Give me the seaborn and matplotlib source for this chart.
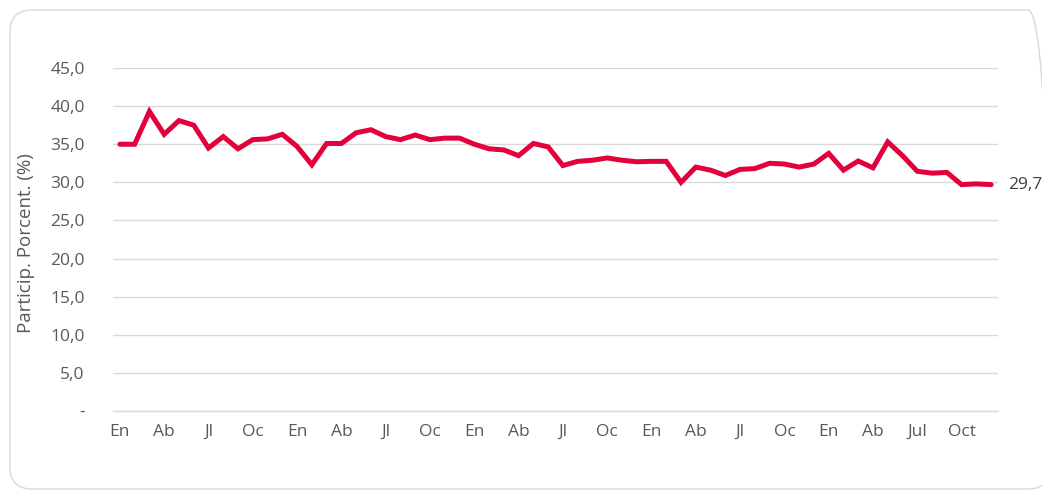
import matplotlib
matplotlib.use("Agg")
import matplotlib.pyplot as plt
from matplotlib.patches import FancyBboxPatch
import seaborn as sns
import pandas as pd
import numpy as np

# ---- data ----
values = [
    35.0, 35.0, 39.3, 36.3, 38.1, 37.5, 34.5, 36.0, 34.4, 35.6, 35.7, 36.3,
    34.7, 32.3, 35.1, 35.1, 36.5, 36.9, 36.0, 35.6, 36.2, 35.6, 35.8, 35.8,
    35.0, 34.4, 34.25, 33.5, 35.1, 34.65, 32.2, 32.75, 32.9, 33.2, 32.9, 32.7,
    32.75, 32.75, 30.0, 32.0, 31.6, 30.9, 31.7, 31.8, 32.5, 32.4, 32.0, 32.4,
    33.8, 31.6, 32.8, 31.9, 35.3, 33.5, 31.45, 31.2, 31.3, 29.7, 29.8, 29.7,
]
tick_labels = ["En", "Ab", "Jl", "Oc", "En", "Ab", "Jl", "Oc", "En", "Ab",
               "Jl", "Oc", "En", "Ab", "Jl", "Oc", "En", "Ab", "Jul", "Oct"]
y_ticks = [0, 5, 10, 15, 20, 25, 30, 35, 40, 45]
y_tick_labels = ["-", "5,0", "10,0", "15,0", "20,0", "25,0", "30,0", "35,0", "40,0", "45,0"]
y_label = "Particip. Porcent. (%)"
end_label = "29,7"

df = pd.DataFrame({"idx": np.arange(len(values)), "val": values})

sns.set_theme(style="white")
plt.rcParams["font.family"] = ["Open Sans", "DejaVu Sans"]

W, H = 1042, 492
fig = plt.figure(figsize=(W / 100, H / 100), dpi=100)
fig.patch.set_facecolor("white")

# rounded border (display/pixel coordinates)
border = FancyBboxPatch((10, 3), 1040, 479,
                        boxstyle="round,pad=0,rounding_size=22",
                        transform=None, facecolor="none",
                        edgecolor="#d9d9d9", linewidth=1.0)
fig.patches.append(border)

left, right = 112.5, 998.5
bottom, top = 411, 68
ax = fig.add_axes([left / W, (H - bottom) / H, (right - left) / W, (bottom - top) / H])
ax.set_facecolor("none")

sns.lineplot(data=df, x="idx", y="val", ax=ax, color="#E4003B", linewidth=3.6,
             solid_joinstyle="miter", clip_on=False)

ax.set_xlim(-0.5, len(values) - 0.5)
ax.set_ylim(0, 45)
ax.set_yticks(y_ticks)
ax.set_yticklabels(y_tick_labels)
ax.set_xticks(np.arange(0, len(values), 3))
ax.set_xticklabels(tick_labels)
ax.tick_params(axis="both", length=0, labelsize=12.5, colors="#595959")
ax.tick_params(axis="y", pad=20)
ax.tick_params(axis="x", pad=9)
ax.grid(axis="y", color="#d9d9d9", linewidth=1.0)
ax.set_axisbelow(True)
for s in ["top", "right", "left"]:
    ax.spines[s].set_visible(False)
ax.spines["bottom"].set_color("#d9d9d9")
ax.spines["bottom"].set_linewidth(1.0)

ax.set_xlabel("")
ax.set_ylabel(y_label, fontsize=13.5, color="#595959")
ax.yaxis.set_label_coords(-0.087, 0.49)

ax.annotate(end_label, xy=(len(values) - 1, values[-1]), xytext=(12, 0),
            textcoords="offset points", va="center", ha="left",
            fontsize=12.5, color="#404040", annotation_clip=False)

fig.savefig("out.png", dpi=100)
